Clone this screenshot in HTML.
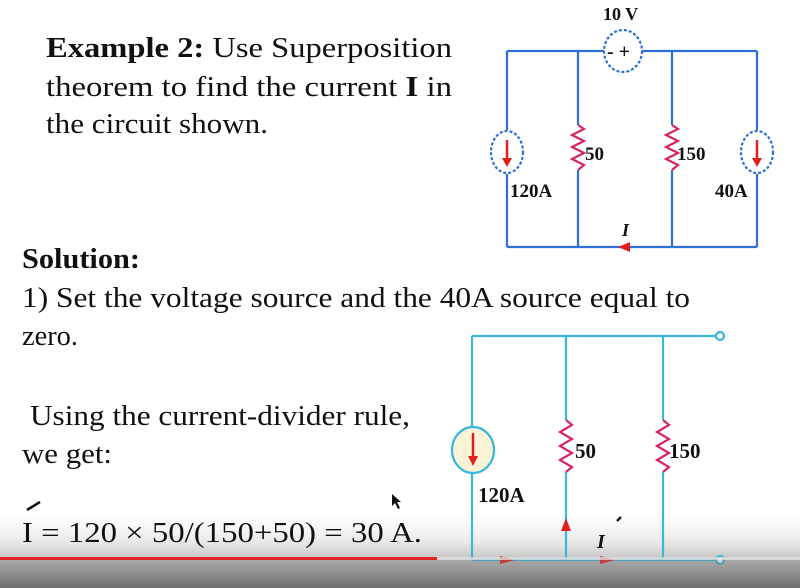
<!DOCTYPE html>
<html><head><meta charset="utf-8"><style>
html,body{margin:0;padding:0;background:#fff;}
svg{display:block;}
text{font-family:"Liberation Serif",serif;fill:#111;}
</style></head><body>
<svg width="800" height="588" viewBox="0 0 800 588" xmlns="http://www.w3.org/2000/svg">
<defs>
<linearGradient id="g" x1="0" y1="0" x2="0" y2="1">
<stop offset="0" stop-color="#fff" stop-opacity="0"/>
<stop offset="0.45" stop-color="#d8d8d8" stop-opacity="0.6"/>
<stop offset="1" stop-color="#6a6a6a"/>
</linearGradient>
</defs>
<!-- player overlay (behind) -->
<rect x="0" y="505" width="800" height="83" fill="url(#g)"/>

<!-- text -->
<text x="46" y="57" font-size="28" textLength="406" lengthAdjust="spacingAndGlyphs"><tspan font-weight="bold">Example 2:</tspan>  Use Superposition</text>
<text x="46" y="96" font-size="28" textLength="406" lengthAdjust="spacingAndGlyphs">theorem to find the current <tspan font-weight="bold">I</tspan> in</text>
<text x="46" y="133" font-size="28" textLength="222" lengthAdjust="spacingAndGlyphs">the circuit shown.</text>
<text x="22" y="268" font-size="28" font-weight="bold" textLength="118" lengthAdjust="spacingAndGlyphs">Solution:</text>
<text x="22" y="307" font-size="28" textLength="668" lengthAdjust="spacingAndGlyphs">1) Set the voltage source and the 40A source equal to</text>
<text x="22" y="345" font-size="28" textLength="56" lengthAdjust="spacingAndGlyphs">zero.</text>
<text x="30" y="425" font-size="28" textLength="380" lengthAdjust="spacingAndGlyphs">Using the current-divider rule,</text>
<text x="22" y="463" font-size="28" textLength="90" lengthAdjust="spacingAndGlyphs">we get:</text>
<text x="22" y="542" font-size="28" textLength="400" lengthAdjust="spacingAndGlyphs">I  = 120 × 50/(150+50) = 30 A.</text>
<line x1="27" y1="510" x2="40" y2="502" stroke="#111" stroke-width="2.5"/>
<path d="M392 494 l0 12 l3 -3 l3 6 l2 -1 l-3 -6 l4 0 z" fill="#111"/>

<!-- top circuit -->
<g stroke="#2f6fd6" stroke-width="2.2" fill="none">
<polyline points="507,51 604,51"/>
<polyline points="642,51 757,51"/>
<line x1="507" y1="51" x2="507" y2="130"/><line x1="507" y1="174" x2="507" y2="247"/>
<line x1="757" y1="51" x2="757" y2="130"/><line x1="757" y1="174" x2="757" y2="247"/>
<line x1="507" y1="247" x2="757" y2="247"/>
<line x1="578" y1="51" x2="578" y2="125"/><line x1="578" y1="170" x2="578" y2="247"/>
<line x1="672" y1="51" x2="672" y2="125"/><line x1="672" y1="170" x2="672" y2="247"/>
<ellipse cx="623" cy="51" rx="19" ry="21" stroke-dasharray="3,2"/>
<ellipse cx="507" cy="152" rx="16" ry="21" stroke-dasharray="3,2"/>
<ellipse cx="757" cy="152" rx="16" ry="21" stroke-dasharray="3,2"/>
</g>
<g stroke="#d6246a" stroke-width="2.2" fill="none">
<polyline points="578,125 584,129 572,135 584,141 572,147 584,153 572,159 584,165 578,170"/>
<polyline points="672,125 678,129 666,135 678,141 666,147 678,153 666,159 678,165 672,170"/>
</g>
<g stroke="#e02020" stroke-width="2.5"><line x1="507" y1="140" x2="507" y2="160"/><line x1="757" y1="140" x2="757" y2="160"/></g>
<path d="M502,158 L512,158 L507,167 Z M752,158 L762,158 L757,167 Z" fill="#e02020"/>
<path d="M618,247 L630,242 L630,252 Z" fill="#e02020"/>
<text x="603" y="20" font-size="18" font-weight="bold">10 V</text>
<text x="607" y="58" font-size="20" font-weight="bold">- +</text>
<text x="585" y="160" font-size="19" font-weight="bold">50</text>
<text x="677" y="160" font-size="19" font-weight="bold">150</text>
<text x="510" y="197" font-size="19" font-weight="bold">120A</text>
<text x="715" y="197" font-size="19" font-weight="bold">40A</text>
<text x="622" y="236" font-size="18" font-weight="bold" font-style="italic">I</text>

<!-- bottom circuit -->
<g stroke="#3bb6dc" stroke-width="2.2" fill="none">
<line x1="472" y1="336" x2="716" y2="336"/>
<line x1="472" y1="560" x2="716" y2="560"/>
<line x1="472" y1="336" x2="472" y2="427"/><line x1="472" y1="473" x2="472" y2="560"/>
<line x1="566" y1="336" x2="566" y2="420"/><line x1="566" y1="472" x2="566" y2="560"/>
<line x1="663" y1="336" x2="663" y2="420"/><line x1="663" y1="472" x2="663" y2="560"/>
<ellipse cx="473" cy="450" rx="21" ry="23" fill="#fbf3d6"/>
<circle cx="720" cy="336" r="4" fill="#fff"/>
<circle cx="720" cy="560" r="4" fill="#fff"/>
</g>
<g stroke="#d6246a" stroke-width="2.2" fill="none">
<polyline points="566,420 572,425 560,432 572,439 560,446 572,453 560,460 572,467 566,472"/>
<polyline points="663,420 669,425 657,432 669,439 657,446 669,453 657,460 669,467 663,472"/>
</g>
<line x1="473" y1="433" x2="473" y2="458" stroke="#e02020" stroke-width="2.5"/>
<path d="M468,456 L478,456 L473,466 Z" fill="#e02020"/>
<text x="478" y="502" font-size="21" font-weight="bold">120A</text>
<text x="575" y="458" font-size="21" font-weight="bold">50</text>
<text x="669" y="458" font-size="21" font-weight="bold">150</text>
<path d="M561,531 L571,531 L566,518 Z" fill="#e02020"/>
<path d="M500,556 L515,560 L500,564 Z M600,556 L615,560 L600,564 Z" fill="#e02020"/>
<text x="597" y="548" font-size="20" font-weight="bold" font-style="italic">I</text>
<line x1="617" y1="521" x2="621" y2="517" stroke="#111" stroke-width="2.5"/>
<rect x="0" y="557" width="437" height="3" fill="#e0262a"/>
<rect x="437" y="557" width="363" height="3" fill="#ddd" opacity="0.8"/>
<rect x="0" y="560" width="800" height="28" fill="#777" opacity="0.35"/>
</svg>
</body></html>
